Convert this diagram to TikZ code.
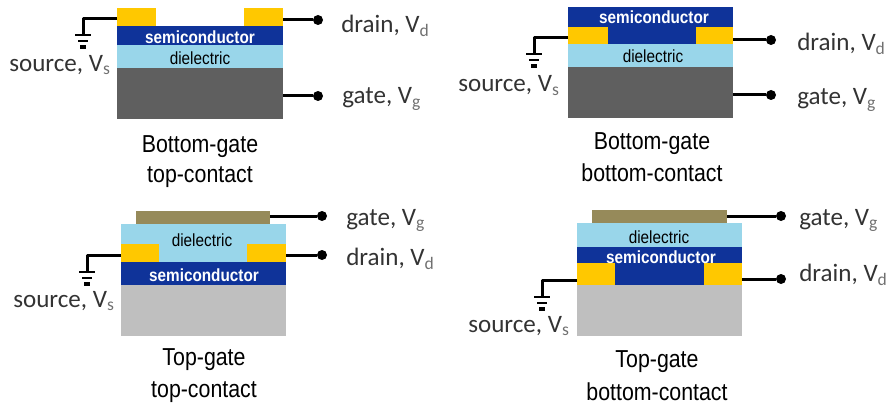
\documentclass[tikz,border=0pt]{standalone}
\usepackage{fontspec}
\setmainfont{Carlito}
\newfontfamily\capfont[FakeStretch=0.87]{Liberation Sans}
\definecolor{semicol}{HTML}{0F3399}
\definecolor{goldcol}{HTML}{FFC800}
\definecolor{dielcol}{HTML}{99D6EA}
\definecolor{darkcol}{HTML}{5F5F5F}
\definecolor{lightcol}{HTML}{BFBFBF}
\definecolor{metalcol}{HTML}{968A5A}
\definecolor{labelcol}{HTML}{333333}
\newcommand{\layerbox}[6]{\node[layer,fill=#2,minimum width={(#5-#3)*0.75pt},minimum height={(#6-#4)*0.75pt}] (#1) at ({(#3+#5)/2},{(#4+#6)/2}) {};}
\newcommand{\subs}[1]{\textsubscript{\textcolor{labelcol!70}{#1}}}

\begin{document}
\begin{tikzpicture}[x=0.75pt,y=-0.75pt]
		
		\tikzset{layer/.style = {shape=rectangle,inner sep=0pt,outer sep=0pt}}
		\tikzset{wire/.style = {line width=2.25pt,line join=round}}
		\tikzset{pindot/.style = {shape=circle,fill=black,inner sep=0pt,minimum size=7.5pt}}
		\tikzset{semitext/.style = {text=white,inner sep=0pt,font=\capfont\fontsize{13.2}{14}\selectfont\bfseries}}
		\tikzset{dieltext/.style = {text=black,inner sep=0pt,font=\capfont\fontsize{13.2}{14}\selectfont}}
		\tikzset{termtext/.style = {anchor=base west,inner sep=0pt,text=labelcol,font=\fontsize{18.8}{20}\selectfont}}
		\tikzset{captext/.style = {anchor=base,inner sep=0pt,text=black,font=\capfont\fontsize{18.4}{20}\selectfont}}
		\tikzset{ground/.pic = {
			\draw[line width=2pt] (-8,0) -- (8,0);
			\draw[line width=2pt] (-5,6) -- (5,6);
			\draw[line width=2.4pt] (-3,12) -- (3,12);
		}}
		
		\useasboundingbox (0,0) rectangle (888,406);
		
		% bottom-gate top-contact
		\layerbox{gateA}{darkcol}{117}{68}{283}{119}
		\layerbox{dielA}{dielcol}{117}{45}{283}{68}
		\layerbox{semiA}{semicol}{117}{26}{283}{45}
		\layerbox{srcA}{goldcol}{117}{8}{156}{26}
		\layerbox{drnA}{goldcol}{244}{8}{283}{26}
		\node[semitext] (semitextA) at (200,37) {semiconductor};
		\node[dieltext] (dieltextA) at (200,58) {dielectric};
		
		\node[pindot] (drndotA) at (318,20) {};
		\node[pindot] (gatedotA) at (318,96) {};
		\coordinate (srcendA) at (117,19);
		\coordinate (gndA) at (83,35);
		\draw[wire] (drndotA) -- (drndotA -| drnA.east);
		\draw[wire] (gatedotA) -- (gatedotA -| gateA.east);
		\draw[wire] (srcendA) -| (gndA);
		\pic at (gndA) {ground};
		
		\node[termtext] (drnlabelA) at (341,32.5) {drain, V\subs{d}};
		\node[termtext] (gatelabelA) at (342,104) {gate, V\subs{g}};
		\node[termtext] (srclabelA) at (9,71.5) {source, V\subs{s}};
		\node[captext] (capA) at (200,152) {Bottom-gate};
		\node[captext] (capbA) at (200,182) {top-contact};
		
		% bottom-gate bottom-contact
		\layerbox{gateB}{darkcol}{568}{67}{733}{118}
		\layerbox{dielB}{dielcol}{568}{44}{733}{67}
		\layerbox{semiB}{semicol}{568}{7}{733}{44}
		\layerbox{srcB}{goldcol}{568}{27}{608}{44}
		\layerbox{drnB}{goldcol}{696}{27}{733}{44}
		\node[semitext] (semitextB) at (654,17) {semiconductor};
		\node[dieltext] (dieltextB) at (653,56) {dielectric};
		
		\node[pindot] (drndotB) at (771,40) {};
		\node[pindot] (gatedotB) at (771,95) {};
		\coordinate (srcendB) at (568,38);
		\coordinate (gndB) at (534,54);
		\draw[wire] (drndotB) -- (drndotB -| drnB.east);
		\draw[wire] (gatedotB) -- (gatedotB -| gateB.east);
		\draw[wire] (srcendB) -| (gndB);
		\pic at (gndB) {ground};
		
		\node[termtext] (drnlabelB) at (797,50.5) {drain, V\subs{d}};
		\node[termtext] (gatelabelB) at (797,105) {gate, V\subs{g}};
		\node[termtext] (srclabelB) at (458,92) {source, V\subs{s}};
		\node[captext] (capB) at (652,150) {Bottom-gate};
		\node[captext] (capbB) at (652,181) {bottom-contact};
		
		% top-gate top-contact
		\layerbox{subC}{lightcol}{121}{285}{286}{336}
		\layerbox{semiC}{semicol}{121}{262}{286}{285}
		\layerbox{dielC}{dielcol}{121}{224}{286}{262}
		\layerbox{srcC}{goldcol}{121}{244}{159}{262}
		\layerbox{drnC}{goldcol}{247}{244}{286}{262}
		\layerbox{gateC}{metalcol}{136}{211}{270}{224}
		\node[dieltext] (dieltextC) at (202,240) {dielectric};
		\node[semitext] (semitextC) at (204,275) {semiconductor};
		
		\node[pindot] (gatedotC) at (322,216) {};
		\node[pindot] (drndotC) at (322,255) {};
		\coordinate (srcendC) at (121,255);
		\coordinate (gndC) at (87,272);
		\draw[wire] (gatedotC) -- (gatedotC -| gateC.east);
		\draw[wire] (drndotC) -- (drndotC -| drnC.east);
		\draw[wire] (srcendC) -| (gndC);
		\pic at (gndC) {ground};
		
		\node[termtext] (gatelabelC) at (346,225) {gate, V\subs{g}};
		\node[termtext] (drnlabelC) at (346,265) {drain, V\subs{d}};
		\node[termtext] (srclabelC) at (13,307.5) {source, V\subs{s}};
		\node[captext] (capC) at (204,365) {Top-gate};
		\node[captext] (capbC) at (204,397) {top-contact};
		
		% top-gate bottom-contact
		\layerbox{subD}{lightcol}{577}{285}{742}{336}
		\layerbox{semiD}{semicol}{577}{247}{742}{285}
		\layerbox{dielD}{dielcol}{577}{223}{742}{247}
		\layerbox{srcD}{goldcol}{577}{263}{615}{285}
		\layerbox{drnD}{goldcol}{704}{263}{742}{285}
		\layerbox{gateD}{metalcol}{592}{210}{727}{223}
		\node[dieltext] (dieltextD) at (659,237) {dielectric};
		\node[semitext] (semitextD) at (661,257) {semiconductor};
		
		\node[pindot] (gatedotD) at (781,216) {};
		\node[pindot] (drndotD) at (781,279) {};
		\coordinate (srcendD) at (577,280);
		\coordinate (gndD) at (542,297);
		\draw[wire] (gatedotD) -- (gatedotD -| gateD.east);
		\draw[wire] (drndotD) -- (drndotD -| drnD.east);
		\draw[wire] (srcendD) -| (gndD);
		\pic at (gndD) {ground};
		
		\node[termtext] (gatelabelD) at (799,225) {gate, V\subs{g}};
		\node[termtext] (drnlabelD) at (799,281) {drain, V\subs{d}};
		\node[termtext] (srclabelD) at (468,332) {source, V\subs{s}};
		\node[captext] (capD) at (657,367.5) {Top-gate};
		\node[captext] (capbD) at (657,400) {bottom-contact};
		
\end{tikzpicture}
\end{document}
